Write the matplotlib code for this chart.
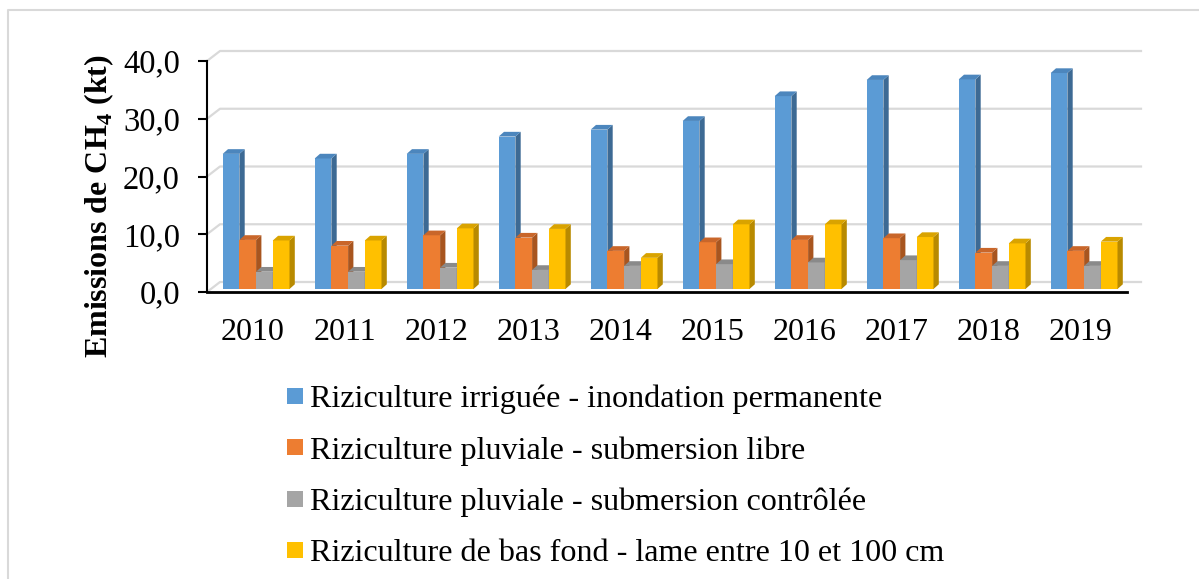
import numpy as np
import matplotlib.pyplot as plt
from matplotlib.patches import Polygon, Rectangle
from matplotlib.lines import Line2D

plt.rcParams['font.family'] = ['Liberation Serif', 'DejaVu Serif']
plt.rcParams['mathtext.fontset'] = 'custom'
plt.rcParams['mathtext.rm'] = 'Liberation Serif'
plt.rcParams['mathtext.bf'] = 'Liberation Serif:bold'

years = ['2010', '2011', '2012', '2013', '2014', '2015', '2016', '2017', '2018', '2019']
series_names = ['Riziculture irriguée - inondation permanente',
                'Riziculture pluviale - submersion libre',
                'Riziculture pluviale - submersion contrôlée',
                'Riziculture de bas fond - lame entre 10 et 100 cm']
irriguee = [23.4, 22.6, 23.4, 26.4, 27.6, 29.1, 33.4, 36.2, 36.3, 37.4]
pluv_libre = [8.5, 7.5, 9.3, 8.9, 6.6, 8.1, 8.5, 8.8, 6.3, 6.6]
pluv_controlee = [3.0, 3.0, 3.7, 3.3, 4.0, 4.3, 4.6, 5.0, 4.0, 4.0]
bas_fond = [8.4, 8.4, 10.5, 10.4, 5.4, 11.2, 11.2, 9.0, 7.9, 8.2]
values = [irriguee, pluv_libre, pluv_controlee, bas_fond]

# front, side, top colours of each series
colors = [('#5b9bd5', '#3d6a94', '#4c86bd'),
          ('#ed7d31', '#a8551f', '#c9662a'),
          ('#a5a5a5', '#777777', '#8a8a8a'),
          ('#ffc000', '#b88a00', '#d9a300')]

W, H = 1199, 579
fig = plt.figure(figsize=(W / 100, H / 100), dpi=100)

# plot area in pixels (front axis)
x0, x1, y0, y1 = 207, 1127, 292, 61
ax = fig.add_axes([x0 / W, 1 - y0 / H, (x1 - x0) / W, (y0 - y1) / H])
ax.set_xlim(0, 10)
ax.set_ylim(0, 40)
px = 10 / (x1 - x0)   # data units per pixel, x
py = 40 / (y0 - y1)   # data units per pixel, y

# back wall gridlines
bdx, bdy = 13 * px, 10 * py
for v in [0, 10, 20, 30, 40]:
    ax.add_line(Line2D([0, bdx, 10 + 14 * px], [v, v + bdy, v + bdy],
                       color='#d9d9d9', lw=1.6, clip_on=False, zorder=1))

# pseudo 3D bars
bw = 16.7 * px
sx, sy = 5.3 * px, 4.7 * py
base = 3 * py
for i in range(len(years)):
    for k, vals in enumerate(values):
        front, side, top = colors[k]
        xl = i + 15.7 * px + k * bw
        xr = xl + bw
        yt = base + vals[i]
        ax.add_patch(Polygon([(xl, base), (xr, base), (xr, yt), (xl, yt)],
                             closed=True, fc=front, ec='none', clip_on=False, zorder=3))
        ax.add_patch(Polygon([(xr, base), (xr + sx, base + sy), (xr + sx, yt + sy), (xr, yt)],
                             closed=True, fc=side, ec='none', clip_on=False, zorder=3))
        ax.add_patch(Polygon([(xl, yt), (xr, yt), (xr + sx, yt + sy), (xl + sx, yt + sy)],
                             closed=True, fc=top, ec='none', clip_on=False, zorder=3))

for s in ['top', 'right']:
    ax.spines[s].set_visible(False)
ax.spines['left'].set_linewidth(1.5)
ax.spines['bottom'].set_linewidth(2.0)
ax.spines['left'].set_zorder(5)
ax.spines['bottom'].set_zorder(5)
ax.patch.set_visible(False)

ax.set_yticks([0, 10, 20, 30, 40])
ax.set_yticklabels([f'{v:.1f}'.replace('.', ',') for v in [0, 10, 20, 30, 40]], fontsize=23.5)
ax.tick_params(axis='y', length=6.5, width=1.5, pad=13)
ax.set_xticks(np.arange(len(years)) + 0.5)
ax.set_xticklabels(years, fontsize=23)
ax.tick_params(axis='x', length=0, pad=19)

fig.text(99 / W, 1 - 206 / H, 'Emissions de CH$_\\mathbf{4}$ (kt)', rotation=90,
         ha='center', va='center', fontsize=23, fontweight='bold')

# legend
for k, name in enumerate(series_names):
    yc = 396 + k * 51.3
    fig.add_artist(Rectangle((287 / W, 1 - (yc + 8) / H), 16 / W, 16 / H,
                             transform=fig.transFigure, fc=colors[k][0], ec='none'))
    fig.text(310 / W, 1 - yc / H, name, ha='left', va='center_baseline', fontsize=23.1)

# outer frame
fig.add_artist(Line2D([8 / W, 8 / W, 1], [0, 1 - 10 / H, 1 - 10 / H],
                      transform=fig.transFigure, color='#d9d9d9', lw=1.5))

fig.savefig('out.png', dpi=100)
